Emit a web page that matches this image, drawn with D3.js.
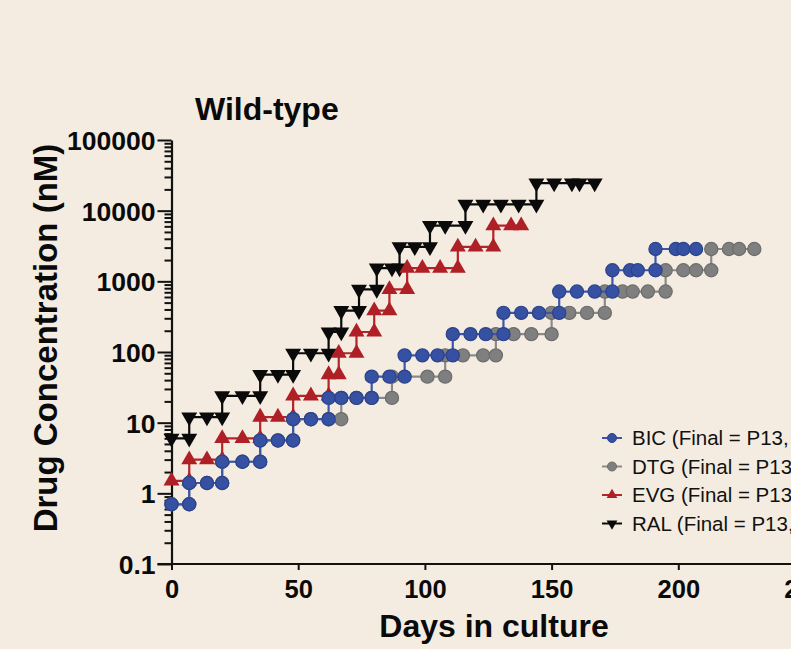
<!DOCTYPE html>
<html>
<head>
<meta charset="utf-8" />
<title>Wild-type</title>
<script src="https://d3js.org/d3.v7.min.js"></script>
<style>
    body { margin:0; background:#f4ece0; }
    text { font-family: "Liberation Sans", Arial, Helvetica, sans-serif; }
</style>
</head>
<body>
<svg id="viz"></svg>
<script>

// days in culture and concentrations (nM), one point per passage, steps repeat the day
var bicDays = [0,7, 7,14,20, 20,28,35, 35,42,48, 48,55,62, 62,67,73,79, 79,86,92, 92,99,105,111, 111,118,124,131, 131,138,145,153, 153,160,167,174, 174,181,184,191, 191,199,202,207];
var bicConc = [0.7,0.7, 1.4,1.4,1.4, 2.8,2.8,2.8, 5.6,5.6,5.6, 11.2,11.2,11.2, 22.4,22.4,22.4,22.4, 44.8,44.8,44.8, 89.6,89.6,89.6,89.6, 179,179,179,179, 358,358,358,358, 717,717,717,717, 1434,1434,1434,1434, 2867,2867,2867,2867];

var dtgDays = [0,7, 7,14,20, 20,28,35, 35,42,48, 48,55,62,67, 67,73,79,87, 87,101,108, 108,115,123,128, 128,135,142,150, 150,157,164,171, 171,178,182,188,195, 195,202,207,213, 213,220,224,230];
var dtgConc = [0.7,0.7, 1.4,1.4,1.4, 2.8,2.8,2.8, 5.6,5.6,5.6, 11.2,11.2,11.2,11.2, 22.4,22.4,22.4,22.4, 44.8,44.8,44.8, 89.6,89.6,89.6,89.6, 179,179,179,179, 358,358,358,358, 717,717,717,717,717, 1434,1434,1434,1434, 2867,2867,2867,2867];

var evgDays = [0,7, 7,14,20, 20,28,35, 35,42,48, 48,55,62, 62,66, 66,73, 73,80, 80,86, 86,93, 93,99,106,113, 113,120,127, 127,134,138];
var evgConc = [1.5,1.5, 3,3,3, 6,6,6, 12,12,12, 24,24,24, 48,48, 96,96, 192,192, 384,384, 768,768, 1536,1536,1536,1536, 3072,3072,3072, 6144,6144,6144];

var ralDays = [0,7, 7,14,20, 20,28,35, 35,42,48, 48,55,62, 62,67, 67,74, 74,81, 81,87,90, 90,96,102, 102,108,116, 116,123,130,137,144, 144,151,158,161,167];
var ralConc = [6,6, 12,12,12, 24,24,24, 48,48,48, 96,96,96, 192,192, 384,384, 768,768, 1536,1536,1536, 3072,3072,3072, 6144,6144,6144, 12288,12288,12288,12288,12288, 24576,24576,24576,24576,24576];

var legendLabels = ["BIC (Final = P13,", "DTG (Final = P13,", "EVG (Final = P13,", "RAL (Final = P13,"];
var xTicks = [0, 50, 100, 150, 200, 250];
var yTicks = [0.1, 1, 10, 100, 1000, 10000, 100000];
var yTickLabels = ["0.1", "1", "10", "100", "1000", "10000", "100000"];

var width = 791, height = 649;

var svg = d3.select("#viz")
    .attr("width", width)
    .attr("height", height)
    .style("background", "#f4ece0");

var x = d3.scaleLinear().domain([0, 250]).range([171.5, 805]);
var y = d3.scaleLog().domain([0.1, 100000]).range([564, 140]);

var series = [
    {name: "RAL", days: ralDays, conc: ralConc, color: "#0a0a0a", fill: "#0a0a0a", stroke: "#0a0a0a", shape: "down"},
    {name: "EVG", days: evgDays, conc: evgConc, color: "#b3242b", fill: "#ae1f26", stroke: "#b3242b", shape: "up"},
    {name: "DTG", days: dtgDays, conc: dtgConc, color: "#8a8a8a", fill: "#7f7f7f", stroke: "#6c6c6c", shape: "circle"},
    {name: "BIC", days: bicDays, conc: bicConc, color: "#3d57a8", fill: "#3650a2", stroke: "#2b428c", shape: "circle"}
];

function marker(sel, s, big) {
    if (s.shape === "circle") {
        sel.append("circle").attr("r", big ? 6.6 : 4.5)
            .attr("fill", s.fill).attr("stroke", s.stroke).attr("stroke-width", big ? 1.2 : 1);
    } else {
        sel.append("path")
            .attr("d", d3.symbol().type(d3.symbolTriangle).size(big ? 110 : 50)())
            .attr("transform", s.shape === "down" ? "rotate(180)" : null)
            .attr("fill", s.fill);
    }
}

// axes
var yMinor = [];
for (var e = -1; e < 5; e++) {
    for (var k = 2; k <= 9; k++) yMinor.push(k * Math.pow(10, e));
}

var gy = svg.append("g").attr("transform", "translate(" + x(0) + ",0)");
gy.call(d3.axisLeft(y).tickValues(yMinor).tickFormat("").tickSize(7).tickSizeOuter(0));
gy.call(function (g) { g.select(".domain").remove(); });
var gyMajor = svg.append("g").attr("transform", "translate(" + x(0) + ",0)")
    .call(d3.axisLeft(y).tickValues(yTicks)
        .tickFormat(function (d, i) { return yTickLabels[i]; })
        .tickSize(14).tickPadding(2).tickSizeOuter(0));
svg.selectAll("g .tick line").attr("stroke", "#111").attr("stroke-width", 2);
gyMajor.select(".domain").attr("stroke", "#111").attr("stroke-width", 2.2);
gyMajor.selectAll("text")
    .attr("font-size", 26.5).attr("font-weight", "bold").attr("fill", "#0a0a0a").attr("dy", "0.36em");

var gx = svg.append("g").attr("transform", "translate(0," + y(0.1) + ")")
    .call(d3.axisBottom(x).tickValues(xTicks).tickSize(6).tickPadding(10).tickSizeOuter(0));
gx.select(".domain").remove();
gx.append("line").attr("x1", x(0) - 14).attr("x2", width).attr("stroke", "#111").attr("stroke-width", 2.2);
gx.selectAll(".tick line").attr("stroke", "#111").attr("stroke-width", 2);
gx.selectAll("text")
    .attr("font-size", 25.5).attr("font-weight", "bold").attr("fill", "#0a0a0a");

// lines and markers
var line = d3.line().x(function (d) { return x(d[0]); }).y(function (d) { return y(d[1]); });

series.forEach(function (s) {
    var pts = s.days.map(function (d, i) { return [d, s.conc[i]]; });
    svg.append("path").datum(pts)
        .attr("d", line).attr("fill", "none")
        .attr("stroke", s.color).attr("stroke-width", 2.2);
    var m = svg.append("g").selectAll("g").data(pts).enter().append("g")
        .attr("transform", function (d) { return "translate(" + x(d[0]) + "," + y(d[1]) + ")"; });
    m.each(function () { marker(d3.select(this), s, true); });
});

// titles
svg.append("text").attr("x", 195).attr("y", 120)
    .attr("font-size", 32).attr("font-weight", "bold").attr("fill", "#0a0a0a")
    .text("Wild-type");

svg.append("text").attr("x", 494).attr("y", 637).attr("text-anchor", "middle")
    .attr("font-size", 32).attr("font-weight", "bold").attr("fill", "#0a0a0a")
    .text("Days in culture");

svg.append("text").attr("transform", "translate(57,338) rotate(-90)")
    .attr("text-anchor", "middle")
    .attr("font-size", 33).attr("font-weight", "bold").attr("fill", "#0a0a0a")
    .text("Drug Concentration (nM)");

// legend
var legendOrder = [series[3], series[2], series[1], series[0]];
var rowY = [438, 466.5, 495, 523.5];
legendOrder.forEach(function (s, i) {
    var g = svg.append("g").attr("transform", "translate(612," + rowY[i] + ")");
    g.append("line").attr("x1", -10).attr("x2", 10).attr("stroke", s.color).attr("stroke-width", 2);
    marker(g, s, false);
    svg.append("text").attr("x", 632).attr("y", rowY[i] + 7)
        .attr("font-size", 20.5).attr("fill", "#111")
        .text(legendLabels[i]);
});

</script>
</body>
</html>
